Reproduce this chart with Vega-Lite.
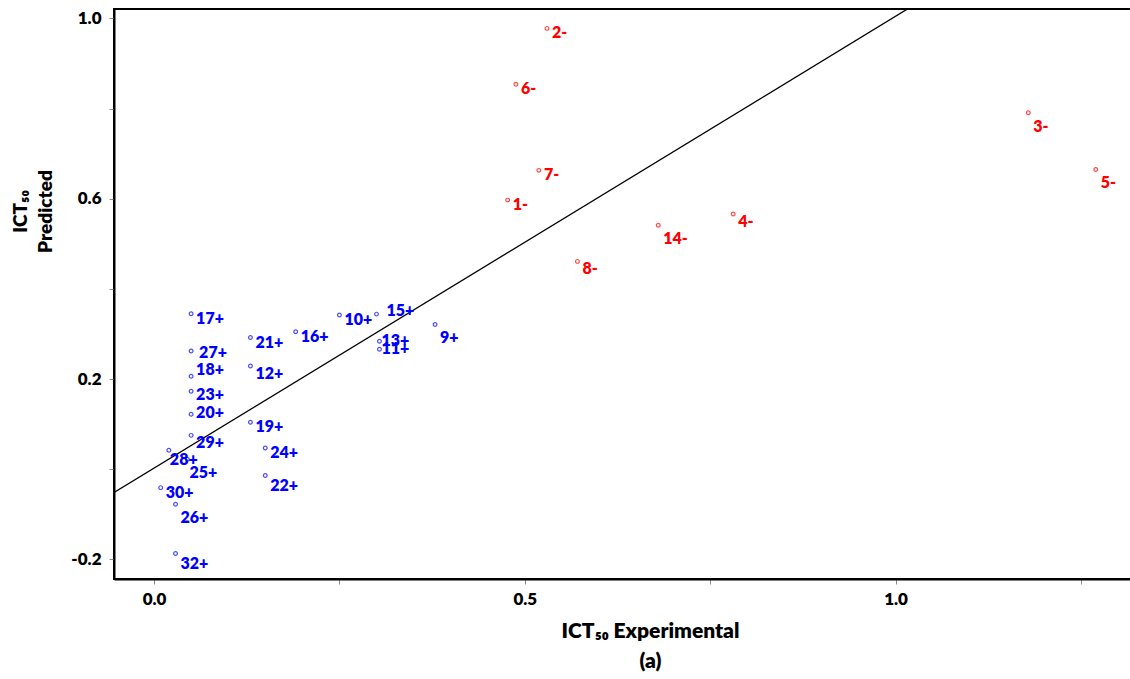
{
  "$schema": "https://vega.github.io/schema/vega-lite/v6.json",
  "autosize": "none",
  "width": 1020,
  "height": 570,
  "padding": {"left": 114, "top": 9, "right": 0, "bottom": 100},
  "background": "white",
  "config": {
    "view": {"stroke": "black", "strokeWidth": 2},
    "text": {"font": "Lato", "fontWeight": 800, "fontSize": 16, "align": "left", "baseline": "middle"},
    "axis": {
      "grid": false,
      "domainColor": "black",
      "domainWidth": 2,
      "tickColor": "#888888",
      "tickWidth": 1,
      "tickSize": 5,
      "labelFont": "Lato",
      "labelFontWeight": 800,
      "labelFontSize": 17,
      "labelColor": "black",
      "titleFont": "Lato",
      "titleFontWeight": 800,
      "titleColor": "black"
    }
  },
  "datasets": {
    "pts": [
      {"exp": 0.477, "pred": 0.597, "label": "1-", "sign": "-"},
      {"exp": 0.530, "pred": 0.978, "label": "2-", "sign": "-"},
      {"exp": 1.179, "pred": 0.791, "label": "3-", "sign": "-"},
      {"exp": 0.781, "pred": 0.566, "label": "4-", "sign": "-"},
      {"exp": 1.270, "pred": 0.665, "label": "5-", "sign": "-"},
      {"exp": 0.488, "pred": 0.854, "label": "6-", "sign": "-"},
      {"exp": 0.519, "pred": 0.663, "label": "7-", "sign": "-"},
      {"exp": 0.571, "pred": 0.461, "label": "8-", "sign": "-"},
      {"exp": 0.680, "pred": 0.541, "label": "14-", "sign": "-"},
      {"exp": 0.379, "pred": 0.321, "label": "9+", "sign": "+"},
      {"exp": 0.250, "pred": 0.342, "label": "10+", "sign": "+"},
      {"exp": 0.304, "pred": 0.266, "label": "11+", "sign": "+"},
      {"exp": 0.130, "pred": 0.229, "label": "12+", "sign": "+"},
      {"exp": 0.304, "pred": 0.284, "label": "13+", "sign": "+"},
      {"exp": 0.300, "pred": 0.344, "label": "15+", "sign": "+"},
      {"exp": 0.191, "pred": 0.305, "label": "16+", "sign": "+"},
      {"exp": 0.050, "pred": 0.345, "label": "17+", "sign": "+"},
      {"exp": 0.050, "pred": 0.206, "label": "18+", "sign": "+"},
      {"exp": 0.130, "pred": 0.104, "label": "19+", "sign": "+"},
      {"exp": 0.050, "pred": 0.122, "label": "20+", "sign": "+"},
      {"exp": 0.130, "pred": 0.292, "label": "21+", "sign": "+"},
      {"exp": 0.150, "pred": -0.014, "label": "22+", "sign": "+"},
      {"exp": 0.050, "pred": 0.173, "label": "23+", "sign": "+"},
      {"exp": 0.150, "pred": 0.047, "label": "24+", "sign": "+"},
      {"exp": 0.045, "pred": 0.022, "label": "25+", "sign": "+"},
      {"exp": 0.029, "pred": -0.078, "label": "26+", "sign": "+"},
      {"exp": 0.050, "pred": 0.262, "label": "27+", "sign": "+"},
      {"exp": 0.020, "pred": 0.042, "label": "28+", "sign": "+"},
      {"exp": 0.050, "pred": 0.075, "label": "29+", "sign": "+"},
      {"exp": 0.009, "pred": -0.041, "label": "30+", "sign": "+"},
      {"exp": 0.029, "pred": -0.187, "label": "32+", "sign": "+"}
    ],
    "fit": [
      {"exp": -0.06, "pred": -0.058},
      {"exp": 1.04, "pred": 1.045}
    ]
  },
  "encoding": {
    "x": {
      "field": "exp", "type": "quantitative",
      "scale": {"domain": [-0.054, 1.3216], "nice": false, "zero": false},
      "axis": {
        "values": [0, 0.25, 0.5, 0.75, 1, 1.25],
        "labelExpr": "datum.value == 0 ? '0.0' : datum.value == 0.5 ? '0.5' : datum.value == 1 ? '1.0' : ''",
        "labelPadding": 7,
        "title": ["ICT₅₀ Experimental", "(a)"],
        "titleFontSize": 21,
        "titleLineHeight": 30,
        "titleX": 536,
        "titleY": 41,
        "titleAlign": "center",
        "titleBaseline": "top"
      }
    },
    "y": {
      "field": "pred", "type": "quantitative",
      "scale": {"domain": [-0.2437, 1.021], "nice": false, "zero": false},
      "axis": {
        "values": [-0.2, 0, 0.2, 0.4, 0.6, 0.8, 1],
        "labelExpr": "datum.value == -0.2 ? '-0.2' : datum.value == 0.2 ? '0.2' : datum.value == 0.6 ? '0.6' : datum.value == 1 ? '1.0' : ''",
        "labelPadding": 8,
        "title": ["ICT₅₀", "Predicted"],
        "titleFontSize": 19,
        "titleLineHeight": 25,
        "titleX": -84,
        "titleY": 202,
        "titleAlign": "center",
        "titleBaseline": "bottom",
        "titleAngle": 270
      }
    },
    "color": {"field": "sign", "type": "nominal", "scale": {"domain": ["-", "+"], "range": ["#ff0000", "#0000ff"]}, "legend": null}
  },
  "layer": [
    {
      "data": {"name": "fit"},
      "mark": {"type": "line", "color": "black", "strokeWidth": 1.3, "clip": true},
      "encoding": {"color": {"value": "black"}}
    },
    {
      "data": {"name": "pts"},
      "mark": {"type": "point", "shape": "circle", "filled": false, "size": 14, "strokeWidth": 1.2}
    },
    {
      "data": {"name": "pts"},
      "transform": [{"filter": "indexof(['10+','16+','2-','6-','7-','1-','17+','21+','19+','24+','30+'], datum.label) >= 0"}],
      "mark": {"type": "text", "dx": 5, "dy": 5},
      "encoding": {"text": {"field": "label", "type": "nominal"}}
    },
    {
      "data": {"name": "pts"},
      "transform": [{"filter": "datum.label == '23+'"}],
      "mark": {"type": "text", "dx": 5, "dy": 4},
      "encoding": {"text": {"field": "label", "type": "nominal"}}
    },
    {
      "data": {"name": "pts"},
      "transform": [{"filter": "indexof(['12+','29+','8-','4-'], datum.label) >= 0"}],
      "mark": {"type": "text", "dx": 5, "dy": 8},
      "encoding": {"text": {"field": "label", "type": "nominal"}}
    },
    {
      "data": {"name": "pts"},
      "transform": [{"filter": "indexof(['22+','32+'], datum.label) >= 0"}],
      "mark": {"type": "text", "dx": 5, "dy": 11},
      "encoding": {"text": {"field": "label", "type": "nominal"}}
    },
    {
      "data": {"name": "pts"},
      "transform": [{"filter": "indexof(['14-','26+','3-','5-','9+'], datum.label) >= 0"}],
      "mark": {"type": "text", "dx": 5, "dy": 14},
      "encoding": {"text": {"field": "label", "type": "nominal"}}
    },
    {
      "data": {"name": "pts"},
      "transform": [{"filter": "datum.label == '18+'"}],
      "mark": {"type": "text", "dx": 5, "dy": -6},
      "encoding": {"text": {"field": "label", "type": "nominal"}}
    },
    {
      "data": {"name": "pts"},
      "transform": [{"filter": "datum.label == '20+'"}],
      "mark": {"type": "text", "dx": 5, "dy": -1},
      "encoding": {"text": {"field": "label", "type": "nominal"}}
    },
    {
      "data": {"name": "pts"},
      "transform": [{"filter": "indexof(['13+','11+'], datum.label) >= 0"}],
      "mark": {"type": "text", "dx": 2, "dy": 0},
      "encoding": {"text": {"field": "label", "type": "nominal"}}
    },
    {
      "data": {"name": "pts"},
      "transform": [{"filter": "datum.label == '15+'"}],
      "mark": {"type": "text", "dx": 10, "dy": -3},
      "encoding": {"text": {"field": "label", "type": "nominal"}}
    },
    {
      "data": {"name": "pts"},
      "transform": [{"filter": "datum.label == '27+'"}],
      "mark": {"type": "text", "dx": 8, "dy": 2},
      "encoding": {"text": {"field": "label", "type": "nominal"}}
    },
    {
      "data": {"name": "pts"},
      "transform": [{"filter": "datum.label == '28+'"}],
      "mark": {"type": "text", "dx": 1, "dy": 10},
      "encoding": {"text": {"field": "label", "type": "nominal"}}
    },
    {
      "data": {"name": "pts"},
      "transform": [{"filter": "datum.label == '25+'"}],
      "mark": {"type": "text", "dx": 2, "dy": 14},
      "encoding": {"text": {"field": "label", "type": "nominal"}}
    }
  ]
}
